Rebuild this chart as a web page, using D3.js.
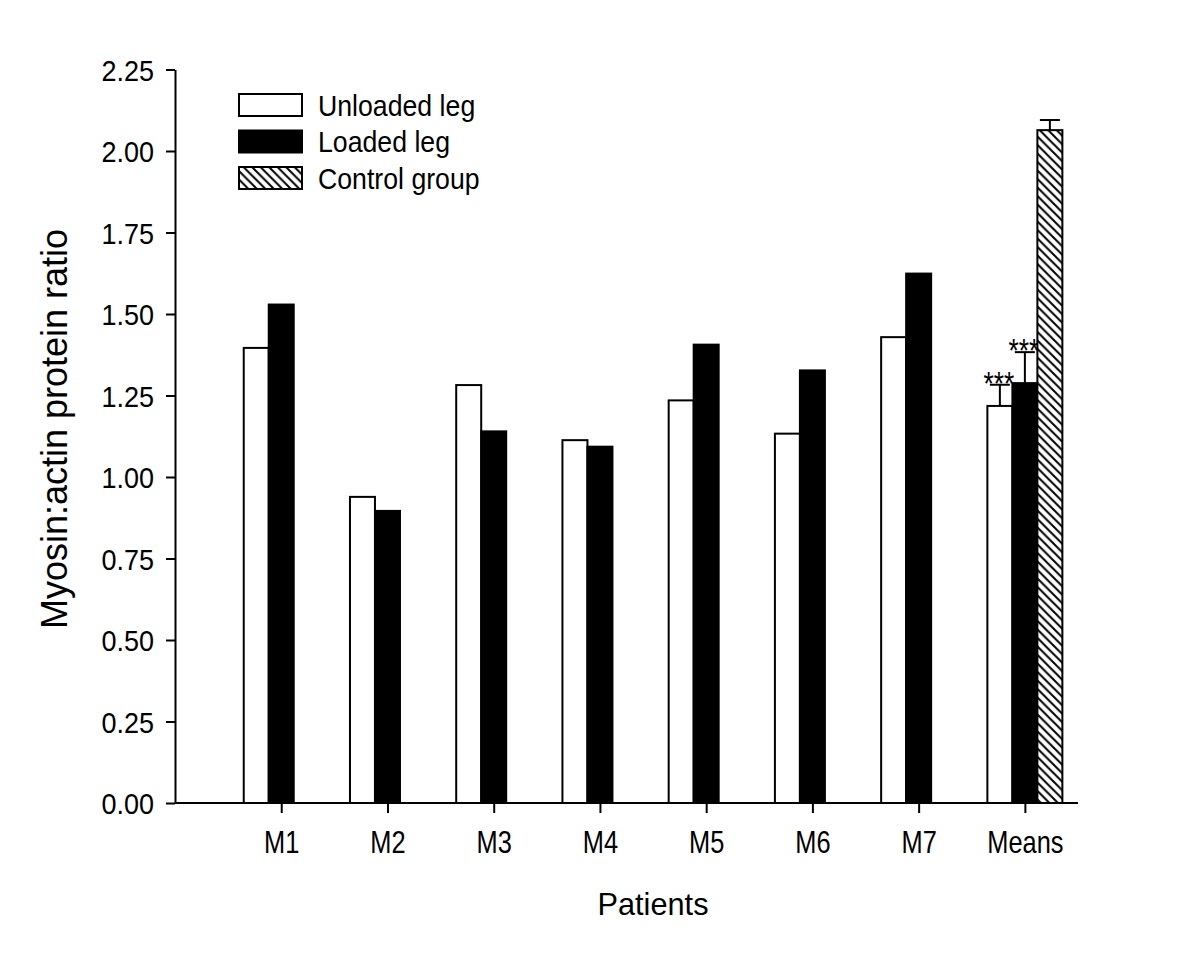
<!DOCTYPE html>
<html>
<head>
<meta charset="utf-8">
<script src="https://cdn.jsdelivr.net/npm/d3@7/dist/d3.min.js"></script>
<style>
  html, body { margin: 0; padding: 0; background: #fff; }
  text { font-family: Arial, "Liberation Sans", sans-serif; fill: #000; }
</style>
</head>
<body>
<svg id="chart" width="1200" height="978"></svg>
<script>
// ---- data ----
const categories = ["M1", "M2", "M3", "M4", "M5", "M6", "M7", "Means"];
const seriesNames = ["Unloaded leg", "Loaded leg", "Control group"];
const unloaded = [1.396, 0.939, 1.282, 1.113, 1.235, 1.133, 1.429, 1.218];
const loaded   = [1.529, 0.896, 1.140, 1.093, 1.406, 1.327, 1.624, 1.288];
const control  = [null, null, null, null, null, null, null, 2.064];
const unloadedErr = [null, null, null, null, null, null, null, 0.065];
const loadedErr   = [null, null, null, null, null, null, null, 0.095];
const controlErr  = [null, null, null, null, null, null, null, 0.031];
const significance = [null, null, null, null, null, null, null, "***"];
const yTicks = [0, 0.25, 0.5, 0.75, 1.0, 1.25, 1.5, 1.75, 2.0, 2.25];
const xTitle = "Patients";
const yTitle = "Myosin:actin protein ratio";

const svg = d3.select("#chart");

// pattern for hatched bars
const defs = svg.append("defs");
const pat = defs.append("pattern")
  .attr("id", "hatch").attr("patternUnits", "userSpaceOnUse")
  .attr("width", 8.5).attr("height", 8.5);
pat.append("rect").attr("width", 8.5).attr("height", 8.5).attr("fill", "#fff");
pat.append("path")
  .attr("d", "M0,0 L8.5,8.5 M-2,6.5 L2,10.5 M6.5,-2 L10.5,2")
  .attr("stroke", "#000").attr("stroke-width", 2);

// scales
const axisLeftX = 175, axisRightX = 1078;
const y = d3.scaleLinear().domain([0, 2.25]).range([803, 69.5]);
const xIdx = d3.scaleLinear().domain([0, 8.5]).range([axisLeftX, axisRightX]);
const x = d3.scalePoint().domain(categories).range([xIdx(1), xIdx(categories.length)]);
const barW = 25;

const series = [
  { name: seriesNames[0], values: unloaded, err: unloadedErr, fill: "#fff", sig: significance },
  { name: seriesNames[1], values: loaded, err: loadedErr, fill: "#000", sig: significance },
  { name: seriesNames[2], values: control, err: controlErr, fill: "url(#hatch)", sig: null }
];

const plot = svg.append("g");

series.forEach((s, j) => {
  const data = categories.map((c, i) => ({ c, v: s.values[i], e: s.err[i], sig: s.sig ? s.sig[i] : null }))
    .filter(d => d.v != null);
  const left = d => x(d.c) + (j - 1.5) * barW;
  const g = plot.append("g");
  // error bars (upper only)
  g.selectAll("line.err").data(data.filter(d => d.e != null)).join("line")
    .attr("x1", d => left(d) + barW / 2).attr("x2", d => left(d) + barW / 2)
    .attr("y1", d => y(d.v)).attr("y2", d => y(d.v + d.e))
    .attr("stroke", "#000").attr("stroke-width", 2);
  g.selectAll("line.cap").data(data.filter(d => d.e != null)).join("line")
    .attr("x1", d => left(d) + barW / 2 - 10).attr("x2", d => left(d) + barW / 2 + 10)
    .attr("y1", d => y(d.v + d.e)).attr("y2", d => y(d.v + d.e))
    .attr("stroke", "#000").attr("stroke-width", 2);
  // significance stars
  g.selectAll("text.sig").data(data.filter(d => d.sig)).join("text")
    .attr("transform", d => `translate(${left(d) + barW / 2 - 1},${y(d.v + (d.e || 0)) + 10}) scale(0.8,1)`)
    .attr("text-anchor", "middle").style("font-size", "33px")
    .text(d => d.sig);
  // bars
  g.selectAll("rect").data(data).join("rect")
    .attr("x", d => left(d)).attr("width", barW)
    .attr("y", d => y(d.v)).attr("height", d => y(0) - y(d.v))
    .attr("fill", s.fill).attr("stroke", "#000").attr("stroke-width", 2);
});

// y axis
const yAxis = svg.append("g").attr("transform", `translate(${axisLeftX},0)`)
  .call(d3.axisLeft(y).tickValues(yTicks).tickFormat(d3.format(".2f")).tickSize(9).tickSizeOuter(0));
yAxis.select(".domain").attr("stroke-width", 2);
yAxis.selectAll(".tick line").attr("stroke-width", 2);
yAxis.selectAll(".tick text")
  .attr("x", null).attr("dy", null)
  .attr("transform", "translate(-21,10.5) scale(0.9,1)")
  .style("font-size", "30px").style("font-family", "Arial, 'Liberation Sans', sans-serif");

// x axis
const xAxis = svg.append("g").attr("transform", `translate(0,${y(0)})`)
  .call(d3.axisBottom(x).tickSize(10).tickSizeOuter(0));
xAxis.select(".domain").remove();
xAxis.append("line").attr("x1", axisLeftX).attr("x2", axisRightX)
  .attr("y1", 0).attr("y2", 0).attr("stroke", "#000").attr("stroke-width", 2);
xAxis.selectAll(".tick line").attr("stroke-width", 2);
xAxis.selectAll(".tick text")
  .attr("y", null).attr("dy", null)
  .attr("transform", "translate(0,50) scale(0.82,1)")
  .style("font-size", "31px").style("font-family", "Arial, 'Liberation Sans', sans-serif");

// titles
svg.append("text").attr("transform", "translate(653,915) scale(0.96,1)")
  .attr("text-anchor", "middle").style("font-size", "32px").text(xTitle);
svg.append("text").attr("transform", "translate(67,429) rotate(-90)")
  .attr("text-anchor", "middle").style("font-size", "36px").text(yTitle);

// legend
const legend = svg.append("g");
const legendY = [94, 130.5, 167];
series.forEach((s, j) => {
  legend.append("rect").attr("x", 239).attr("y", legendY[j]).attr("width", 63).attr("height", 22)
    .attr("fill", s.fill).attr("stroke", "#000").attr("stroke-width", 2);
  legend.append("text").attr("transform", `translate(318,${legendY[j] + 21.5}) scale(0.92,1)`)
    .style("font-size", "29px").text(s.name);
});
</script>
</body>
</html>
